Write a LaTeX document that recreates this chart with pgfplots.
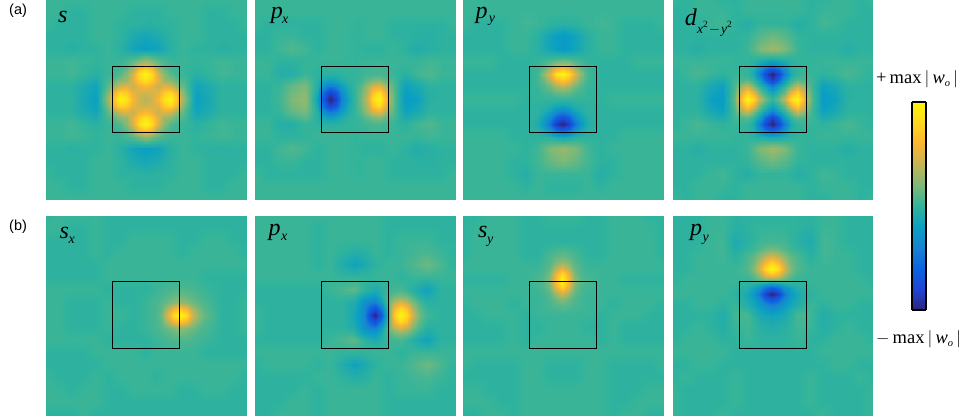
\documentclass[border=0pt]{standalone}
\usepackage{fontspec}
\usepackage{pgfplots}
\usepackage{pgfplotstable}
\usepgfplotslibrary{patchplots}
\pgfplotsset{compat=1.18}
\setmainfont{Liberation Serif}
\newfontfamily\arial{Liberation Sans}
\pgfplotsset{colormap={wo}{
 rgb255=(45,35,125) rgb255=(30,70,210) rgb255=(10,100,225) rgb255=(25,130,210)
 rgb255=(10,160,195) rgb255=(50,180,155) rgb255=(125,185,120) rgb255=(195,180,85)
 rgb255=(250,180,50) rgb255=(255,215,30) rgb255=(250,245,15)}}

\pgfplotstableread[header=false]{
1 1 1 1 1 1 1 1 1 1 1 1 1 1 1 1 1
1 1 -1 -1 1 1 1 -1 -1 -1 1 1 1 -1 -1 1 1
1 -1 -1 -1 1 1 -1 -1 -2 -1 -1 1 1 -1 -1 -1 1
-1 -1 -1 -1 1 1 -1 -5 -7 -5 -1 1 1 -1 -1 -1 -1
-1 -1 -2 -1 -1 1 -2 -8 -10 -8 -2 1 -1 -1 -2 -1 -1
1 1 2 1 0 1 1 6 14 6 1 1 0 1 2 1 1
1 1 2 0 -2 1 5 24 50 24 5 1 -2 0 2 1 1
-1 -1 -1 -5 -8 6 24 20 30 20 24 6 -8 -5 -1 -1 -1
-1 -1 -1 -6 -10 14 50 30 18 30 50 14 -10 -6 -1 -1 -1
-1 -1 -1 -5 -8 6 24 20 30 20 24 6 -8 -5 -1 -1 -1
1 1 2 0 -2 1 5 24 50 24 5 1 -2 0 2 1 1
1 1 2 1 0 1 1 6 14 6 1 1 0 1 2 1 1
-1 -1 -2 -1 -1 1 -2 -8 -10 -8 -2 1 -1 -1 -2 -1 -1
-1 -1 -1 -1 1 1 -1 -5 -7 -5 -1 1 1 -1 -1 -1 -1
1 -1 -1 -1 1 1 -1 -1 -2 -1 -1 1 1 -1 -1 -1 1
1 1 -1 -1 1 1 1 -1 -1 -1 1 1 1 -1 -1 1 1
1 1 1 1 1 1 1 1 1 1 1 1 1 1 1 1 1
}\tabA
\pgfplotstableread[header=false]{
1 1 1 3 6 10 14 10 6 3 1 1 1
1 1 2 6 14 30 35 30 14 6 2 1 1
1 2 5 12 24 42 50 42 24 12 5 2 1
3 6 12 14 26 37 43 37 26 14 12 6 3
6 14 24 26 20 27 30 27 20 26 24 14 6
10 30 42 37 27 23 22 23 27 37 42 30 10
14 35 50 43 30 22 18 22 30 43 50 35 14
10 30 42 37 27 23 22 23 27 37 42 30 10
6 14 24 26 20 27 30 27 20 26 24 14 6
3 6 12 14 26 37 43 37 26 14 12 6 3
1 2 5 12 24 42 50 42 24 12 5 2 1
1 1 2 6 14 30 35 30 14 6 2 1 1
1 1 1 3 6 10 14 10 6 3 1 1 1
}\fineA
\pgfplotstableread[header=false]{
1 1 1 1 1 1 1 1 1 1 1 1 1 1 1 1 1
1 1 1 1 1 1 1 1 1 1 1 1 1 1 1 1 1
1 -1 -1 -1 -1 -1 1 1 0 1 1 -1 -1 -1 -1 -1 1
-1 -1 1 1 -1 -1 1 1 0 1 1 -1 -1 -2 -2 -1 -1
-1 -1 2 4 2 -1 1 1 0 -1 -1 1 -1 -4 -2 -1 -1
1 1 -1 -1 0 1 1 1 0 1 1 1 1 1 2 1 1
1 1 -3 -3 1 -1 -2 -1 0 2 3 1 -2 2 4 1 1
-1 -1 1 7 10 -3 -24 -10 0 14 28 6 -9 -6 -1 -1 -1
-1 -1 2 10 14 -8 -50 -20 0 20 50 8 -12 -9 -2 -1 -1
-1 -1 1 7 10 -3 -24 -10 0 14 28 6 -9 -6 -1 -1 -1
1 1 -3 -3 1 -1 -2 -1 0 2 3 1 -2 2 4 1 1
1 1 -1 -1 0 1 1 1 0 1 1 1 1 1 2 1 1
-1 -1 2 4 2 -1 1 1 0 -1 -1 1 -1 -4 -2 -1 -1
-1 -1 1 1 -1 -1 1 1 0 1 1 -1 -1 -2 -2 -1 -1
1 -1 -1 -1 -1 -1 1 1 0 1 1 -1 -1 -1 -1 -1 1
1 1 1 1 1 1 1 1 1 1 1 1 1 1 1 1 1
1 1 1 1 1 1 1 1 1 1 1 1 1 1 1 1 1
}\tabB
\pgfplotstableread[header=false]{
1 1 1 1 1 1 0 1 1 1 1 1 1
0 0 0 0 0 0 0 1 1 2 2 1 1
-1 -2 -2 -2 -1 0 0 1 2 3 3 2 1
-2 -6 -9 -7 -4 -1 0 2 6 9 11 6 3
-3 -15 -24 -20 -10 -4 0 5 14 24 28 16 6
-6 -27 -42 -35 -16 -6 0 7 17 36 43 27 7
-8 -32 -50 -42 -20 -8 0 8 20 42 50 32 8
-6 -27 -42 -35 -16 -6 0 7 17 36 43 27 7
-3 -15 -24 -20 -10 -4 0 5 14 24 28 16 6
-2 -6 -9 -7 -4 -1 0 2 6 9 11 6 3
-1 -2 -2 -2 -1 0 0 1 2 3 3 2 1
0 0 0 0 0 0 0 1 1 2 2 1 1
1 1 1 1 1 1 0 1 1 1 1 1 1
}\fineB
\pgfplotstableread[header=false]{
1 1 1 1 1 1 1 1 1 1 1 1 1 1 1 1 1
1 1 1 1 1 1 1 1 1 1 1 1 1 1 1 1 1
1 -1 -1 -1 1 2 1 -1 -2 -1 1 2 1 -1 -1 -1 1
-1 -1 -1 -1 1 1 -2 -8 -12 -8 -2 1 1 -1 -1 -1 -1
-1 -1 -1 -1 1 1 -2 -8 -13 -8 -2 1 1 -1 -1 -1 -1
1 1 1 -1 -1 -1 0 4 8 4 0 -1 -1 -1 1 1 1
-1 -1 -1 -1 -1 -1 2 25 50 25 2 -1 -1 -1 -1 -1 -1
-1 -1 -1 -1 -1 -1 1 8 18 8 1 -1 -1 -1 -1 -1 -1
1 1 1 1 1 -1 0 0 0 0 0 -1 1 1 1 1 1
-1 -1 -1 -1 -1 -1 -1 -8 -20 -8 -1 -1 -1 -1 -1 -1 -1
-1 -1 -1 -1 -1 -1 -4 -25 -50 -25 -4 -1 -1 -1 -1 -1 -1
1 1 1 1 -1 -1 -1 -3 -8 -3 -1 -1 -1 1 1 1 1
1 1 1 1 1 -1 2 10 14 10 2 -1 1 1 1 1 1
1 1 1 1 -1 -1 2 7 10 7 2 -1 -1 1 1 1 1
1 1 1 1 -1 -3 1 1 1 1 1 -3 -1 1 1 1 1
1 1 1 1 1 -1 1 -1 -1 -1 1 -1 1 1 1 1 1
1 1 1 1 1 1 1 1 1 1 1 1 1 1 1 1 1
}\tabC
\pgfplotstableread[header=false]{
-1 -1 0 2 4 7 8 7 4 2 0 -1 -1
-1 0 1 6 14 26 32 26 14 6 1 0 -1
-1 0 2 12 25 43 50 43 25 12 2 0 -1
-1 0 2 8 17 30 36 30 17 8 2 0 -1
-1 0 1 4 8 15 18 15 8 4 1 0 -1
-1 0 0 2 3 6 7 6 3 2 0 0 -1
-1 0 0 0 0 0 0 0 0 0 0 0 -1
-1 -1 -1 -2 -3 -6 -7 -6 -3 -2 -1 -1 -1
-1 -1 -1 -4 -8 -16 -20 -16 -8 -4 -1 -1 -1
-1 -1 -3 -9 -18 -31 -38 -31 -18 -9 -3 -1 -1
-1 -2 -4 -12 -25 -43 -50 -43 -25 -12 -4 -2 -1
-1 -1 -2 -6 -14 -26 -32 -26 -14 -6 -2 -1 -1
-1 -1 -1 -2 -3 -7 -8 -7 -3 -2 -1 -1 -1
}\fineC
\pgfplotstableread[header=false]{
1 -1 1 1 -1 -1 1 1 1 1 1 -1 -1 1 1 -1 1
-1 -1 1 1 1 -1 1 1 1 1 1 -1 1 1 1 -1 -1
-1 -1 -1 1 2 -1 -3 0 0 0 -3 -1 2 1 -1 -1 -1
-1 -1 -1 -1 -1 -1 0 5 8 5 0 -1 -1 -1 -1 -1 -1
-1 -1 -3 -1 -1 -1 1 10 15 10 1 -1 -1 -1 -3 -1 -1
1 1 1 1 1 0 0 -4 -8 -4 0 0 1 1 1 1 1
-1 1 3 1 -1 1 0 -22 -50 -22 0 1 -1 1 3 1 -1
-1 -1 -1 -6 -9 4 22 0 -20 0 22 4 -9 -6 -1 -1 -1
-1 -1 -2 -9 -12 8 50 20 0 20 50 8 -12 -9 -2 -1 -1
-1 -1 -1 -6 -9 4 22 0 -20 0 22 4 -9 -6 -1 -1 -1
-1 1 3 1 -1 1 0 -22 -50 -22 0 1 -1 1 3 1 -1
1 1 1 1 1 0 0 -4 -8 -4 0 0 1 1 1 1 1
-1 -1 -3 -1 -1 -1 1 10 15 10 1 -1 -1 -1 -3 -1 -1
-1 -1 -1 -1 -1 -1 0 5 8 5 0 -1 -1 -1 -1 -1 -1
-1 -1 -1 1 2 -1 -3 0 0 0 -3 -1 2 1 -1 -1 -1
-1 -1 1 1 1 -1 1 1 1 1 1 -1 1 1 1 -1 -1
1 -1 1 1 -1 -1 1 1 1 1 1 -1 -1 1 1 -1 1
}\tabD
\pgfplotstableread[header=false]{
0 0 0 -2 -4 -6 -8 -6 -4 -2 0 0 0
0 0 0 -3 -14 -25 -32 -25 -14 -3 0 0 0
1 1 0 -5 -22 -40 -50 -40 -22 -5 0 1 1
2 3 5 0 -10 -30 -42 -30 -10 0 5 3 2
4 14 22 10 0 -8 -20 -8 0 10 22 14 4
6 24 40 28 8 0 -7 0 8 28 40 24 6
8 32 50 42 20 7 0 7 20 42 50 32 8
6 24 40 28 8 0 -7 0 8 28 40 24 6
4 14 22 10 0 -8 -20 -8 0 10 22 14 4
2 3 5 0 -10 -30 -42 -30 -10 0 5 3 2
1 1 0 -5 -22 -40 -50 -40 -22 -5 0 1 1
0 0 0 -3 -14 -25 -32 -25 -14 -3 0 0 0
0 0 0 -2 -4 -6 -8 -6 -4 -2 0 0 0
}\fineD
\pgfplotstableread[header=false]{
-1 1 1 1 1 -1 -1 -1 -1 -1 -1 -1 -1 -1 -1 -1 -1
1 1 -1 -1 1 -1 -1 -1 -1 -1 -1 -1 -1 -1 -1 -1 -1
-1 -1 -1 -1 1 -1 -1 1 1 1 1 -1 -1 1 1 -1 -1
-1 -1 -1 -1 1 -1 1 1 1 1 1 -1 1 1 1 1 -1
-1 -1 -1 -1 -1 1 1 1 1 1 1 1 1 1 1 1 1
-1 -1 -1 -1 -1 1 1 1 1 1 1 1 1 -1 -1 -1 -1
1 1 1 1 1 -1 -1 -1 -1 1 3 4 3 1 -1 -1 -1
1 1 -1 -1 -1 1 -1 -1 1 3 8 14 8 3 -1 -1 1
1 1 -1 -1 -1 1 1 -1 1 3 25 50 22 6 -1 -1 1
1 1 -1 -1 -1 1 -1 -1 1 3 8 14 8 3 -1 -1 1
1 1 1 1 1 -1 -1 -1 -1 1 3 4 3 1 -1 -1 -1
-1 -1 -1 -1 1 1 1 1 -1 1 1 1 1 -1 -1 -1 -1
-1 -1 -1 -1 -1 1 1 1 1 1 1 1 1 1 1 1 1
1 -1 -1 -1 1 -1 1 1 1 -1 1 1 1 1 1 1 -1
1 1 -1 1 1 -1 -1 1 1 1 1 -1 -1 1 1 -1 -1
1 1 1 1 1 -1 -1 -1 -1 -1 -1 -1 -1 -1 -1 -1 -1
-1 -1 -1 1 -1 -1 -1 -1 -1 -1 -1 -1 -1 -1 -1 -1 -1
}\tabE
\pgfplotstableread[header=false]{
1 2 3 4 4 4 3 2 1
2 3 5 7 8 7 5 3 2
3 5 8 11 14 11 8 5 3
3 6 18 30 36 30 16 9 4
3 8 25 42 50 42 22 12 6
3 6 18 30 36 30 16 9 4
3 5 8 11 14 11 8 5 3
2 3 5 7 8 7 5 3 2
1 2 3 4 4 4 3 2 1
}\fineE
\pgfplotstableread[header=false]{
1 1 1 1 1 1 1 1 1 1 1 -1 -1 -1 -1 -1 -1
1 1 1 1 1 -1 1 1 1 1 1 -1 -1 -1 -1 -1 -1
1 1 1 1 1 -1 1 1 1 1 1 -1 1 1 1 -1 -1
1 1 1 1 1 -1 1 -1 -3 -2 1 -1 1 2 3 1 -1
1 1 1 1 1 -1 1 -4 -9 -5 -1 1 1 4 8 3 -1
1 1 1 1 1 1 1 0 0 0 1 1 -1 1 1 1 1
-1 -1 -1 -1 -1 -1 1 3 6 -1 -5 1 3 -3 -9 -1 -1
-1 -1 -1 -1 -1 -1 -1 -1 -5 -16 -22 5 26 10 -2 -1 -1
1 -1 -1 -1 -1 -1 -1 -1 -7 -20 -50 -1 50 22 2 -1 -1
1 -1 -1 -1 -1 -1 -1 -1 -5 -16 -22 5 26 10 -2 -1 -1
-1 -1 -1 -1 -1 -1 1 3 6 -1 -5 1 3 -3 -9 -1 -1
1 1 1 1 1 1 1 0 0 0 1 1 -1 1 1 1 1
-1 1 1 1 1 -1 1 -4 -9 -5 -1 1 1 4 8 3 -1
-1 -1 -1 -1 -1 1 1 -1 -3 -2 1 -1 1 2 3 1 -1
-1 -1 -1 -1 1 -1 1 1 1 1 1 -1 1 1 1 -1 -1
-1 -1 -1 1 1 -1 1 1 1 1 1 -1 -1 -1 -1 -1 -1
-1 -1 1 1 1 -1 1 1 1 1 1 -1 -1 -1 -1 -1 -1
}\tabF
\pgfplotstableread[header=false]{
6 2 -1 -3 -5 -2 1 2 3 1 -3 -6 -9
0 -5 -8 -10 -11 -4 3 8 10 8 3 -2 -5
-5 -9 -16 -20 -22 -10 5 18 26 20 10 3 -2
-6 -11 -18 -30 -38 -22 2 30 42 35 17 6 1
-7 -12 -20 -40 -50 -32 -1 35 50 42 22 8 2
-6 -11 -18 -30 -38 -22 2 30 42 35 17 6 1
-5 -9 -16 -20 -22 -10 5 18 26 20 10 3 -2
0 -5 -8 -10 -11 -4 3 8 10 8 3 -2 -5
6 2 -1 -3 -5 -2 1 2 3 1 -3 -6 -9
}\fineF
\pgfplotstableread[header=false]{
-1 -1 1 1 1 -1 -1 1 1 1 -1 -1 1 1 1 -1 -1
-1 1 1 1 1 -1 -1 -1 -1 -1 -1 -1 1 1 1 1 -1
-1 1 1 1 1 -1 -1 -1 -1 -1 -1 -1 1 1 1 1 -1
-1 1 1 1 1 -1 -1 3 6 3 -1 -1 1 1 1 1 -1
1 1 1 1 1 1 1 6 25 6 1 1 1 1 1 1 1
-1 -1 -1 -1 1 1 3 12 50 12 3 1 1 -1 -1 -1 -1
1 1 1 1 1 1 1 6 25 6 1 1 1 1 1 1 1
-1 1 1 1 -1 1 1 3 6 3 1 1 -1 1 1 1 -1
-1 -1 1 1 1 -1 1 1 1 1 1 -1 1 1 1 -1 -1
-1 -1 -1 -1 1 -1 -1 1 1 1 -1 -1 1 -1 -1 -1 -1
-1 -1 -1 -1 1 -1 1 1 1 1 1 -1 1 -1 -1 -1 -1
1 1 1 1 1 1 1 1 1 1 1 1 1 1 1 1 1
1 -1 -1 -1 -1 1 1 -1 -1 -1 1 1 -1 -1 -1 -1 1
-1 -1 -1 -1 -1 1 1 -1 -1 -1 1 1 -1 -1 -1 -1 -1
1 1 -1 -1 -1 1 1 1 1 1 1 1 -1 -1 -1 1 1
1 1 1 -1 -1 1 1 1 1 1 1 1 -1 -1 1 1 1
-1 -1 1 1 -1 1 1 1 1 1 1 1 -1 1 1 -1 -1
}\tabG
\pgfplotstableread[header=false]{
-1 1 3 5 6 5 3 1 -1
0 2 4 9 12 9 4 2 0
1 3 6 16 25 16 6 3 1
2 4 9 28 42 28 9 4 2
3 5 12 32 50 32 12 5 3
2 4 9 28 42 28 9 4 2
1 3 6 16 25 16 6 3 1
1 2 4 8 12 8 4 2 1
1 2 3 5 6 5 3 2 1
}\fineG
\pgfplotstableread[header=false]{
-1 -1 -1 1 1 -1 -1 -1 -1 -1 -1 -1 1 1 -1 -1 -1
-1 -1 -1 1 1 -2 -1 0 0 0 -1 -2 1 1 -1 -1 -1
-1 -1 -1 1 2 -5 -2 2 3 2 -2 -5 2 1 -1 -1 -1
-1 -1 1 1 2 -2 3 12 24 12 3 -2 2 1 1 -1 -1
-1 -1 1 1 1 1 4 24 50 24 4 1 1 1 1 -1 -1
-1 1 1 1 1 1 0 2 0 2 0 1 1 1 1 1 -1
1 1 1 1 1 -1 -6 -24 -50 -24 -6 -1 1 1 1 1 1
-1 -1 1 1 -1 1 -4 -12 -22 -12 -4 1 -1 1 1 -1 -1
-1 -1 -1 -1 -4 2 3 -6 -8 -6 3 2 -4 -1 -1 -1 -1
-1 -1 1 -1 -3 1 2 -2 -4 -2 2 1 -3 -1 1 -1 -1
-1 1 1 1 -1 -1 1 -1 -1 -1 1 -1 -1 1 1 1 -1
1 1 1 1 1 -1 -1 -1 -1 -1 -1 -1 1 1 1 1 1
-1 -1 1 1 -1 -1 -1 -1 -1 -1 -1 -1 -1 1 1 -1 -1
-1 1 -1 -1 -1 1 -1 -1 -1 -1 -1 1 -1 -1 -1 1 -1
1 -1 -1 -1 -1 1 -1 -1 -1 -1 -1 1 -1 -1 -1 -1 1
1 -1 -1 -1 -1 1 -1 -1 -1 -1 -1 1 -1 -1 -1 -1 1
1 -1 -1 -1 1 -1 -1 -1 -1 -1 -1 -1 1 -1 -1 -1 1
}\tabH
\pgfplotstableread[header=false]{
-2 0 2 3 3 3 2 0 -2
0 2 5 8 10 8 5 2 0
3 6 12 19 24 19 12 6 3
4 8 18 32 40 32 18 8 4
4 10 24 42 50 42 24 10 4
2 6 14 26 32 26 14 6 2
0 1 2 2 0 2 2 1 0
-3 -8 -14 -26 -32 -26 -14 -8 -3
-6 -12 -24 -42 -50 -42 -24 -12 -6
-5 -9 -17 -29 -36 -29 -17 -9 -5
-4 -7 -12 -18 -22 -18 -12 -7 -4
0 -4 -8 -12 -14 -12 -8 -4 0
3 -2 -6 -7 -8 -7 -6 -2 3
}\fineH

\def\xU{-100,-87.5,-75,-62.5,-50,-37.5,-25,-12.5,0,12.5,25,37.5,50,62.5,75,87.5,100}
\def\yU{100,87.5,75,62.5,50,37.5,25,12.5,0,-12.5,-25,-37.5,-50,-62.5,-75,-87.5,-100}
\def\xE{-100,-87.5,-75,-62.5,-50,-37.5,-25,-12.5,0,10,22.5,35,47.5,60,75,87.5,100}
\def\xF{-100,-87.5,-75,-62.5,-50,-37.5,-25,-12.5,0,10.5,21,33.5,46,58.5,72,86,100}
\def\yG{100,85,72.5,60,47.5,35,22.5,10,0,-12.5,-25,-37.5,-50,-62.5,-75,-87.5,-100}
\def\yH{100,87.5,72,58.5,46,33.5,21,10.5,0,-12.5,-25,-37.5,-50,-62.5,-75,-87.5,-100}
% finer grids over the sharp blobs
\def\xFa{-37.5,-31.25,-25,-18.75,-12.5,-6.25,0,6.25,12.5,18.75,25,31.25,37.5}
\def\yFa{37.5,31.25,25,18.75,12.5,6.25,0,-6.25,-12.5,-18.75,-25,-31.25,-37.5}
\def\xFe{10,16.25,22.5,28.75,35,41.25,47.5,53.75,60}
\def\yFe{25,18.75,12.5,6.25,0,-6.25,-12.5,-18.75,-25}
\def\xFf{0,5.25,10.5,15.75,21,27.25,33.5,39.75,46,52.25,58.5,65.25,72}
\def\xFg{-25,-18.75,-12.5,-6.25,0,6.25,12.5,18.75,25}
\def\yFg{60,53.75,47.5,41.25,35,28.75,22.5,16.25,10}
\def\yFh{72,65.25,58.5,52.25,46,39.75,33.5,27.25,21,15.75,10.5,5.25,0}

\newcommand\mkcoords[3]{%
  \gdef\coords{}%
  \foreach \yv [count=\j from 0] in #3 {%
    \foreach \xv [count=\i from 0] in #2 {%
      \pgfplotstablegetelem{\j}{[index]\i}\of#1%
      \xdef\coords{\coords (\xv,\yv,\pgfplotsretval)}%
    }%
  }%
}
% one heat-map panel: left, bottom, table, x, y, fine table, fine x, fine y, fine columns
\newcommand\panel[9]{%
  \begin{axis}[at={(#1pt,#2pt)},anchor=south west,width=200pt,height=200pt,
    scale only axis,hide axis,view={0}{90},colormap name=wo,
    xmin=-100,xmax=100,ymin=-100,ymax=100,
    point meta min=-50,point meta max=50]
    \mkcoords{#3}{#4}{#5}%
    \edef\temp{\noexpand\addplot3[surf,shader=interp,patch type=bilinear,mesh/cols=17,point meta=z] coordinates {\coords};}%
    \temp
    \mkcoords{#6}{#7}{#8}%
    \edef\temp{\noexpand\addplot3[surf,shader=interp,patch type=bilinear,mesh/cols=#9,point meta=z] coordinates {\coords};}%
    \temp
    \draw[black,line width=1.1pt] (axis cs:-33.4,-33.4) rectangle (axis cs:33.4,33.4);
  \end{axis}%
}
\newcommand\sub[1]{{\fontsize{14}{14}\selectfont\itshape #1}}
\newcommand\lab[3]{\node[anchor=base west,inner sep=0pt] at (#1pt,{417pt-#2pt}) {\fontsize{24}{24}\selectfont\itshape #3};}
\newcommand\slab[3]{\node[anchor=base west,inner sep=0pt] at (#1pt,{417pt-#2pt}) {\sub{#3}};}
\newcommand\wo[1]{\fontsize{18.5}{18.5}\selectfont #1\,max\,$\vert$\,\textit{w}\raisebox{-3pt}{\fontsize{10.5}{10.5}\selectfont\itshape o}\,$\vert$}

\begin{document}
\begin{tikzpicture}[x=1pt,y=1pt]
\useasboundingbox (0,0) rectangle (964pt,417pt);
\panel{46}{217.5}{\tabA}{\xU}{\yU}{\fineA}{\xFa}{\yFa}{13}
\panel{255}{217.5}{\tabB}{\xU}{\yU}{\fineB}{\xFa}{\yFa}{13}
\panel{463}{217.5}{\tabC}{\xU}{\yU}{\fineC}{\xFa}{\yFa}{13}
\panel{672.8}{217.5}{\tabD}{\xU}{\yU}{\fineD}{\xFa}{\yFa}{13}
\panel{46}{1.7}{\tabE}{\xE}{\yU}{\fineE}{\xFe}{\yFe}{9}
\panel{255}{1.7}{\tabF}{\xF}{\yU}{\fineF}{\xFf}{\yFe}{13}
\panel{463}{1.7}{\tabG}{\xU}{\yG}{\fineG}{\xFg}{\yFg}{9}
\panel{672.8}{1.7}{\tabH}{\xU}{\yH}{\fineH}{\xFg}{\yFh}{9}
% colour bar
\begin{axis}[at={(912.3pt,107.3pt)},anchor=south west,width=14pt,height=208pt,
  scale only axis,view={0}{90},colormap name=wo,ticks=none,
  xmin=0,xmax=1,ymin=-50,ymax=50,point meta min=-50,point meta max=50,
  axis line style={line width=2pt}]
  \addplot3[surf,shader=interp,mesh/cols=2,point meta=z] coordinates {(0,-50,-50) (1,-50,-50) (0,50,50) (1,50,50)};
\end{axis}
% panel labels
\node[anchor=base west,inner sep=0pt] at (9pt,402pt) {\arial\fontsize{14.5}{14.5}\selectfont (a)};
\node[anchor=base west,inner sep=0pt] at (9pt,186pt) {\arial\fontsize{14.5}{14.5}\selectfont (b)};
\lab{58}{22.7}{s}
\lab{270.7}{18.7}{p}\slab{282}{24}{x}
\lab{475.3}{19}{p}\slab{488.7}{22.7}{y}
\lab{684.7}{26}{d}
\node[anchor=base west,inner sep=0pt] at (697pt,383pt) {\fontsize{13.5}{13.5}\selectfont\itshape x\raisebox{6pt}{\fontsize{9.5}{9.5}\selectfont\upshape 2}\kern1pt$-$\kern1pt y\raisebox{6pt}{\fontsize{9.5}{9.5}\selectfont\upshape 2}};
\lab{59.3}{238.7}{s}\slab{68.3}{244}{x}
\lab{268.3}{235.3}{p}\slab{281}{240.7}{x}
\lab{478}{238}{s}\slab{487}{243.7}{y}
\lab{690}{236}{p}\slab{702.3}{241.3}{y}
\node[anchor=base west,inner sep=0pt] at (876pt,333.7pt) {\wo{+}};
\node[anchor=base west,inner sep=0pt] at (876pt,73pt) {\wo{$-$}};
\end{tikzpicture}
\end{document}
